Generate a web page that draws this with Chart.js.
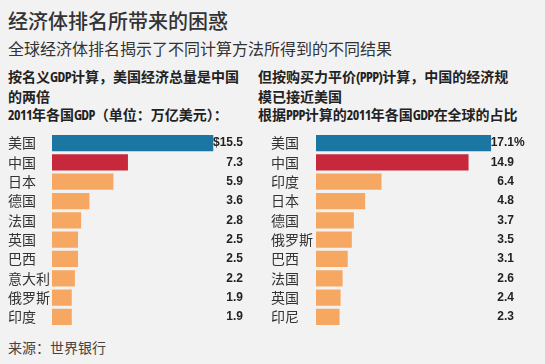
<!DOCTYPE html>
<html>
<head>
<meta charset="utf-8">
<script src="https://cdn.jsdelivr.net/npm/chart.js@4.4.0/dist/chart.umd.min.js"></script>
<style>
  body { margin: 0; background: #f2f2f3; }
  #wrap { position: relative; width: 545px; height: 364px; overflow: hidden; font-family: "Noto Sans CJK SC", sans-serif; color: #333; }
  .t { position: absolute; white-space: nowrap; }
  #title { left: 8px; top: 6px; font-size: 20px; font-weight: 500; color: #333; }
  #sub { left: 8px; top: 36px; font-size: 16px; color: #333; }
  .head { font-size: 14px; font-weight: 700; line-height: 18.5px; color: #222; }
  .n { font-family: "Open Sans", sans-serif; font-stretch: 75%; letter-spacing: -0.6px; }
  #src { left: 8px; top: 337px; font-size: 14px; color: #444; }
  .box { position: absolute; top: 125px; height: 210px; }
</style>
</head>
<body>
<div id="wrap">
  <div class="t" id="title">经济体排名所带来的困惑</div>
  <div class="t" id="sub">全球经济体排名揭示了不同计算方法所得到的不同结果</div>
  <div class="t head" style="left:8px;top:67px">按名义<span class="n">GDP</span>计算，美国经济总量是中国<br>的两倍<br><span class="n">2011</span>年各国<span class="n">GDP</span>（单位：万亿美元）：</div>
  <div class="t head" style="left:258px;top:67px">但按购买力平价<span class="n">(PPP)</span>计算，中国的经济规<br>模已接近美国<br>根据<span class="n">PPP</span>计算的<span class="n">2011</span>年各国<span class="n">GDP</span>在全球的占比</div>
  <div class="box" style="left:8px;width:250px"><canvas id="gdp"></canvas></div>
  <div class="box" style="left:271px;width:260px"><canvas id="ppp"></canvas></div>
  <div class="t" id="src">来源：世界银行</div>
</div>
<script>
const gdpCountries = ["美国", "中国", "日本", "德国", "法国", "英国", "巴西", "意大利", "俄罗斯", "印度"];
const gdpValues = [15.5, 7.3, 5.9, 3.6, 2.8, 2.5, 2.5, 2.2, 1.9, 1.9];
const gdpLabels = ["$15.5", "7.3", "5.9", "3.6", "2.8", "2.5", "2.5", "2.2", "1.9", "1.9"];

const pppCountries = ["美国", "中国", "印度", "日本", "德国", "俄罗斯", "巴西", "法国", "英国", "印尼"];
const pppValues = [17.1, 14.9, 6.4, 4.8, 3.7, 3.5, 3.1, 2.6, 2.4, 2.3];
const pppLabels = ["17.1%", "14.9", "6.4", "4.8", "3.7", "3.5", "3.1", "2.6", "2.4", "2.3"];

const blue = "#1b76a2", red = "#c8283b", orange = "#f6a862";

// value labels, lined up on the decimal point
const valueLabels = {
  id: "valueLabels",
  afterDatasetsDraw(chart, args, opts) {
    const ctx = chart.ctx;
    const meta = chart.getDatasetMeta(0);
    ctx.save();
    ctx.font = "bold 12px 'Liberation Sans', Arial, sans-serif";
    ctx.fillStyle = "#222";
    ctx.textBaseline = "middle";
    meta.data.forEach((bar, i) => {
      const txt = opts.labels[i];
      const intPart = txt.split(".")[0];
      const x = opts.dotX - ctx.measureText(intPart).width;
      ctx.fillText(txt, x, bar.y);
    });
    ctx.restore();
  }
};

function makeChart(id, cats, vals, labels, maxX, axisW, dotX) {
  const colors = vals.map((v, i) => i == 0 ? blue : i == 1 ? red : orange);
  return new Chart(document.getElementById(id), {
    type: "bar",
    data: {
      labels: cats,
      datasets: [{
        data: vals,
        backgroundColor: colors,
        borderWidth: 0,
        barPercentage: 0.84,
        categoryPercentage: 1
      }]
    },
    options: {
      indexAxis: "y",
      responsive: true,
      maintainAspectRatio: false,
      animation: false,
      layout: { padding: 0 },
      plugins: {
        legend: { display: false },
        tooltip: { enabled: false },
        valueLabels: { labels: labels, dotX: dotX }
      },
      scales: {
        x: { display: false, min: 0, max: maxX },
        y: {
          border: { display: false },
          grid: { display: false },
          afterFit(scale) { scale.width = axisW; },
          ticks: {
            crossAlign: "far",
            padding: 0,
            color: "#333",
            font: { family: "'Noto Sans CJK SC', sans-serif", size: 14 }
          }
        }
      }
    },
    plugins: [valueLabels]
  });
}

makeChart("gdp", gdpCountries, gdpValues, gdpLabels, 19.8, 44, 225);
makeChart("ppp", pppCountries, pppValues, pppLabels, 21.0, 45, 233);
</script>
</body>
</html>
